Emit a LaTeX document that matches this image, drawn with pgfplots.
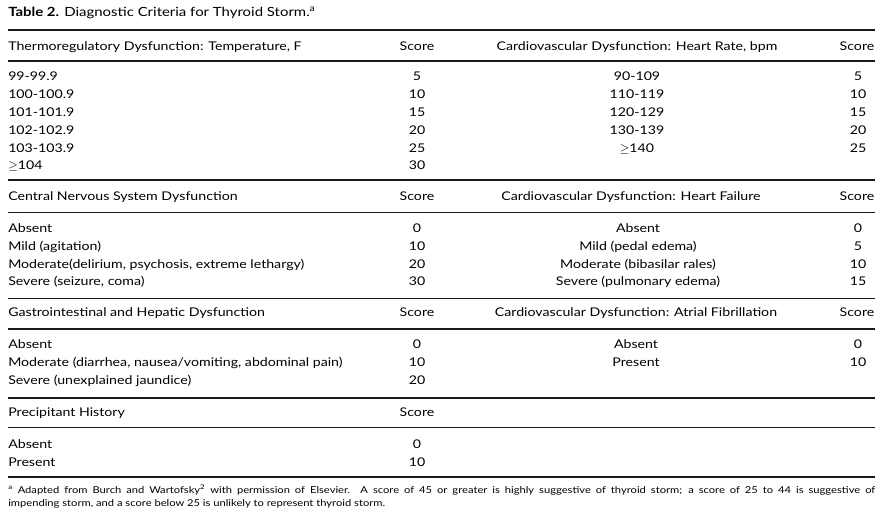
\documentclass[border=0pt]{standalone}
\usepackage{fontspec}
\setmainfont{Lato}[FakeStretch=1.18]
\usepackage{pgfplots}
\usepackage{pgfplotstable}
\pgfplotsset{compat=1.18}
\pgfdeclareplotmark{emptymark}{}

% left-aligned texts: x, baseline y (pixels from top), label
\pgfplotstableread[col sep=braces]{
{x}{y}{label}
{8}{17}{\fontsize{9.5}{11}\selectfont\textbf{Table 2.} Diagnostic Criteria for Thyroid Storm.\textsuperscript{a}}
{8}{50.5}{Thermoregulatory Dysfunction: Temperature, F}
{8}{81}{99-99.9}
{8}{98.8}{100-100.9}
{8}{116.6}{101-101.9}
{8}{134.4}{102-102.9}
{8}{152.2}{103-103.9}
{8}{170}{$\geq$104}
{8}{200.5}{Central Nervous System Dysfunction}
{8}{233}{Absent}
{8}{250.6}{Mild (agitation)}
{8}{268.2}{Moderate(delirium, psychosis, extreme lethargy)}
{8}{285.8}{Severe (seizure, coma)}
{8}{317}{Gastrointestinal and Hepatic Dysfunction}
{8}{349}{Absent}
{8}{366.8}{Moderate (diarrhea, nausea/vomiting, abdominal pain)}
{8}{384.6}{Severe (unexplained jaundice)}
{8}{416.5}{Precipitant History}
{8}{448}{Absent}
{8}{466}{Present}
{8}{493.5}{\fontsize{7.1}{9}\selectfont\makebox[650.25pt][s]{\textsuperscript{a} Adapted from Burch and Wartofsky\textsuperscript{2} with permission of Elsevier. A score of 45 or greater is highly suggestive of thyroid storm; a score of 25 to 44 is suggestive of}}
{8}{506.5}{\fontsize{7.1}{9}\selectfont impending storm, and a score below 25 is unlikely to represent thyroid storm.}
}\lefttexts

% centred texts: x, baseline y, label
\pgfplotstableread[col sep=braces]{
{x}{y}{label}
{417}{50.5}{Score}
{417}{81}{5}
{417}{98.8}{10}
{417}{116.6}{15}
{417}{134.4}{20}
{417}{152.2}{25}
{417}{170}{30}
{417}{200.5}{Score}
{417}{233}{0}
{417}{250.6}{10}
{417}{268.2}{20}
{417}{285.8}{30}
{417}{317}{Score}
{417}{349}{0}
{417}{366.8}{10}
{417}{384.6}{20}
{417}{416.5}{Score}
{417}{448}{0}
{417}{466}{10}
{637}{50.5}{Cardiovascular Dysfunction: Heart Rate, bpm}
{637}{81}{90-109}
{637}{98.8}{110-119}
{637}{116.6}{120-129}
{637}{134.4}{130-139}
{637}{152.2}{$\geq$140}
{631}{200.5}{Cardiovascular Dysfunction: Heart Failure}
{638}{233}{Absent}
{638}{250.6}{Mild (pedal edema)}
{638}{268.2}{Moderate (bibasilar rales)}
{638}{285.8}{Severe (pulmonary edema)}
{636}{317}{Cardiovascular Dysfunction: Atrial Fibrillation}
{636}{349}{Absent}
{636}{366.8}{Present}
{857}{50.5}{Score}
{858}{81}{5}
{858}{98.8}{10}
{858}{116.6}{15}
{858}{134.4}{20}
{858}{152.2}{25}
{857}{200.5}{Score}
{858}{233}{0}
{858}{250.6}{5}
{858}{268.2}{10}
{858}{285.8}{15}
{857}{317}{Score}
{858}{349}{0}
{858}{366.8}{10}
}\centtexts

\begin{document}
\begin{tikzpicture}
\begin{axis}[
  hide axis, scale only axis, width=666pt, height=397.5pt,
  xmin=0, xmax=888, ymin=0, ymax=530, y dir=reverse, clip=false,
  every node near coord/.style={font=\fontsize{9}{11}\selectfont, inner sep=0pt, text=black},
]
\addplot[draw=none] coordinates {(0,0) (888,530)};
% rules
\addplot[black!90, line width=1.6pt] coordinates {(8,30) (875,30)};
\addplot[black!90, line width=1.4pt] coordinates {(8,61) (875,61)};
\addplot[black!90, line width=1.4pt] coordinates {(8,180) (875,180)};
\addplot[black!90, line width=1.4pt] coordinates {(8,212.5) (875,212.5)};
\addplot[black!90, line width=1.4pt] coordinates {(8,298.5) (875,298.5)};
\addplot[black!90, line width=1.4pt] coordinates {(8,329) (875,329)};
\addplot[black!90, line width=1.4pt] coordinates {(8,398) (875,398)};
\addplot[black!90, line width=1.4pt] coordinates {(8,427.5) (875,427.5)};
\addplot[black!90, line width=1.4pt] coordinates {(8,477) (875,477)};
% texts
\addplot[black, only marks, mark=emptymark,
  nodes near coords, point meta=explicit symbolic,
  nodes near coords style={anchor=base west}]
  table[x=x, y=y, meta=label]{\lefttexts};
\addplot[black, only marks, mark=emptymark,
  nodes near coords, point meta=explicit symbolic,
  nodes near coords style={anchor=base}]
  table[x=x, y=y, meta=label]{\centtexts};
\end{axis}
\end{tikzpicture}
\end{document}
